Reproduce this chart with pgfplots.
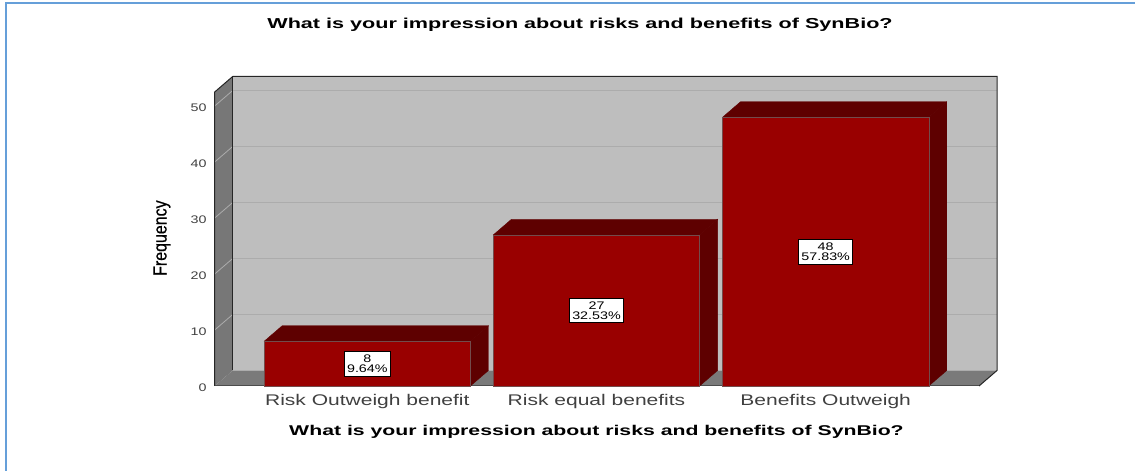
\documentclass[border=0pt]{standalone}
\usepackage{pgfplots}
\pgfplotsset{compat=1.18}
\usepackage{fontspec}
\setmainfont{Liberation Sans}
\newfontfamily\widefont[FakeStretch=1.30]{Liberation Sans}
\newfontfamily\labelfont[FakeStretch=1.36]{Liberation Sans}
\newfontfamily\headfont[FakeStretch=1.50]{Liberation Sans Bold}
\newfontfamily\narrowfont[FakeStretch=0.84,FakeBold=0.5]{Liberation Sans}
\definecolor{framecol}{HTML}{659FD9}
\definecolor{wallcol}{HTML}{BEBEBE}
\definecolor{gridcol}{HTML}{ACACAC}
\definecolor{sidecol}{HTML}{777777}
\definecolor{floorcol}{HTML}{7A7A7A}
\definecolor{barfront}{HTML}{990000}
\definecolor{barside}{HTML}{5E0000}
\definecolor{tickcol}{HTML}{404040}
\begin{document}
\begin{tikzpicture}[x=1pt,y=1pt]
\path[use as bounding box] (0,0) rectangle (1135,471);
% outer frame, open at the bottom and on the right
\draw[framecol,line width=2.2pt] (6,0) -- (6,468) -- (1135,468);
\begin{axis}[
  at={(214.7pt,85pt)}, anchor=south west,
  scale only axis, width=764.3pt, height=294pt,
  xmin=-0.666, xmax=2.669, ymin=0, ymax=52.5,
  clip=false,
  axis line style={draw=none},
  major tick length=0pt,
  xtick={0,1,2},
  xticklabels={Risk Outweigh benefit,Risk equal benefits,Benefits Outweigh},
  ytick={0,10,20,30,40,50},
  /pgf/number format/assume math mode=true,
  xticklabel style={font=\labelfont\fontsize{15.45}{15.45}\selectfont,text=tickcol,inner sep=0pt},
  yticklabel style={font=\widefont\fontsize{11}{11}\selectfont,text=tickcol,inner sep=0pt,yshift=-2pt},
  xticklabel shift=8pt,
  yticklabel shift=8pt,
  every axis title shift=0pt,
  title={What is your impression about risks and benefits of SynBio?},
  title style={font=\headfont\fontsize{14.4}{15}\selectfont,at={(axis description cs:0.478,1.228)},anchor=center},
  xlabel={What is your impression about risks and benefits of SynBio?},
  xlabel style={font=\headfont\fontsize{14.15}{15}\selectfont,at={(axis description cs:0.4995,-0.155)},anchor=center},
  ylabel={Frequency},
  ylabel style={font=\narrowfont\fontsize{19}{19}\selectfont,at={(axis description cs:-0.069,0.503)},anchor=center},
]
% back wall, side wall and floor
\addplot[fill=wallcol,draw=none] coordinates {(-0.5875,2.768) (2.7475,2.768) (2.7475,55.268) (-0.5875,55.268)} -- cycle;
\addplot[fill=sidecol,draw=none] coordinates {(-0.666,0) (-0.5875,2.768) (-0.5875,55.268) (-0.666,52.5)} -- cycle;
\addplot[fill=floorcol,draw=none] coordinates {(-0.666,0) (2.669,0) (2.7475,2.768) (-0.5875,2.768)} -- cycle;
% grid lines on the back wall
\addplot[gridcol,line width=0.9pt] coordinates {(-0.5875,12.768) (2.7475,12.768)};
\addplot[gridcol,line width=0.9pt] coordinates {(-0.5875,22.768) (2.7475,22.768)};
\addplot[gridcol,line width=0.9pt] coordinates {(-0.5875,32.768) (2.7475,32.768)};
\addplot[gridcol,line width=0.9pt] coordinates {(-0.5875,42.768) (2.7475,42.768)};
\addplot[gridcol,line width=0.9pt] coordinates {(-0.5875,52.768) (2.7475,52.768)};
% grid lines on the side wall
\addplot[gridcol,line width=0.8pt] coordinates {(-0.666,10) (-0.5875,12.768)};
\addplot[gridcol,line width=0.8pt] coordinates {(-0.666,20) (-0.5875,22.768)};
\addplot[gridcol,line width=0.8pt] coordinates {(-0.666,30) (-0.5875,32.768)};
\addplot[gridcol,line width=0.8pt] coordinates {(-0.666,40) (-0.5875,42.768)};
\addplot[gridcol,line width=0.8pt] coordinates {(-0.666,50) (-0.5875,52.768)};
% outline of the box
\addplot[gridcol,line width=1pt] coordinates {(-0.5875,2.768) (2.7475,2.768)};
\addplot[black!85,line width=1pt] coordinates {(-0.666,0) (-0.666,52.5) (-0.5875,55.268) (2.7475,55.268) (2.7475,2.768) (2.669,0)};
\addplot[black!85,line width=1pt] coordinates {(-0.5875,2.768) (-0.5875,55.268)};
\addplot[black!70,line width=1pt] coordinates {(-0.666,0) (2.669,0)};
% Risk Outweigh benefit
\addplot[fill=barside,draw=barside,line width=0.3pt] coordinates {(-0.45,8) (0.45,8) (0.5285,10.768) (-0.3715,10.768)} -- cycle;
\addplot[fill=barside,draw=barside,line width=0.3pt] coordinates {(0.45,0) (0.5285,2.768) (0.5285,10.768) (0.45,8)} -- cycle;
\addplot[ybar,bar width=0.9,bar shift=0pt,fill=barfront,draw=barside!40!gray,line width=0.4pt] coordinates {(0,8)};
% Risk equal benefits
\addplot[fill=barside,draw=barside,line width=0.3pt] coordinates {(0.55,27) (1.45,27) (1.5285,29.768) (0.6285,29.768)} -- cycle;
\addplot[fill=barside,draw=barside,line width=0.3pt] coordinates {(1.45,0) (1.5285,2.768) (1.5285,29.768) (1.45,27)} -- cycle;
\addplot[ybar,bar width=0.9,bar shift=0pt,fill=barfront,draw=barside!40!gray,line width=0.4pt] coordinates {(1,27)};
% Benefits Outweigh
\addplot[fill=barside,draw=barside,line width=0.3pt] coordinates {(1.55,48) (2.45,48) (2.5285,50.768) (1.6285,50.768)} -- cycle;
\addplot[fill=barside,draw=barside,line width=0.3pt] coordinates {(2.45,0) (2.5285,2.768) (2.5285,50.768) (2.45,48)} -- cycle;
\addplot[ybar,bar width=0.9,bar shift=0pt,fill=barfront,draw=barside!40!gray,line width=0.4pt] coordinates {(2,48)};
% value labels at the middle of each bar
\tikzset{vallabel/.style={fill=white,draw=black,line width=0.7pt,align=center,inner xsep=2.7pt,inner ysep=3.5pt,font=\widefont\fontsize{11}{10}\selectfont}}
\node[vallabel] at (axis cs:0,4) {8\\9.64\%};
\node[vallabel] at (axis cs:1,13.5) {27\\32.53\%};
\node[vallabel] at (axis cs:2,24) {48\\57.83\%};
\end{axis}
\end{tikzpicture}
\end{document}
